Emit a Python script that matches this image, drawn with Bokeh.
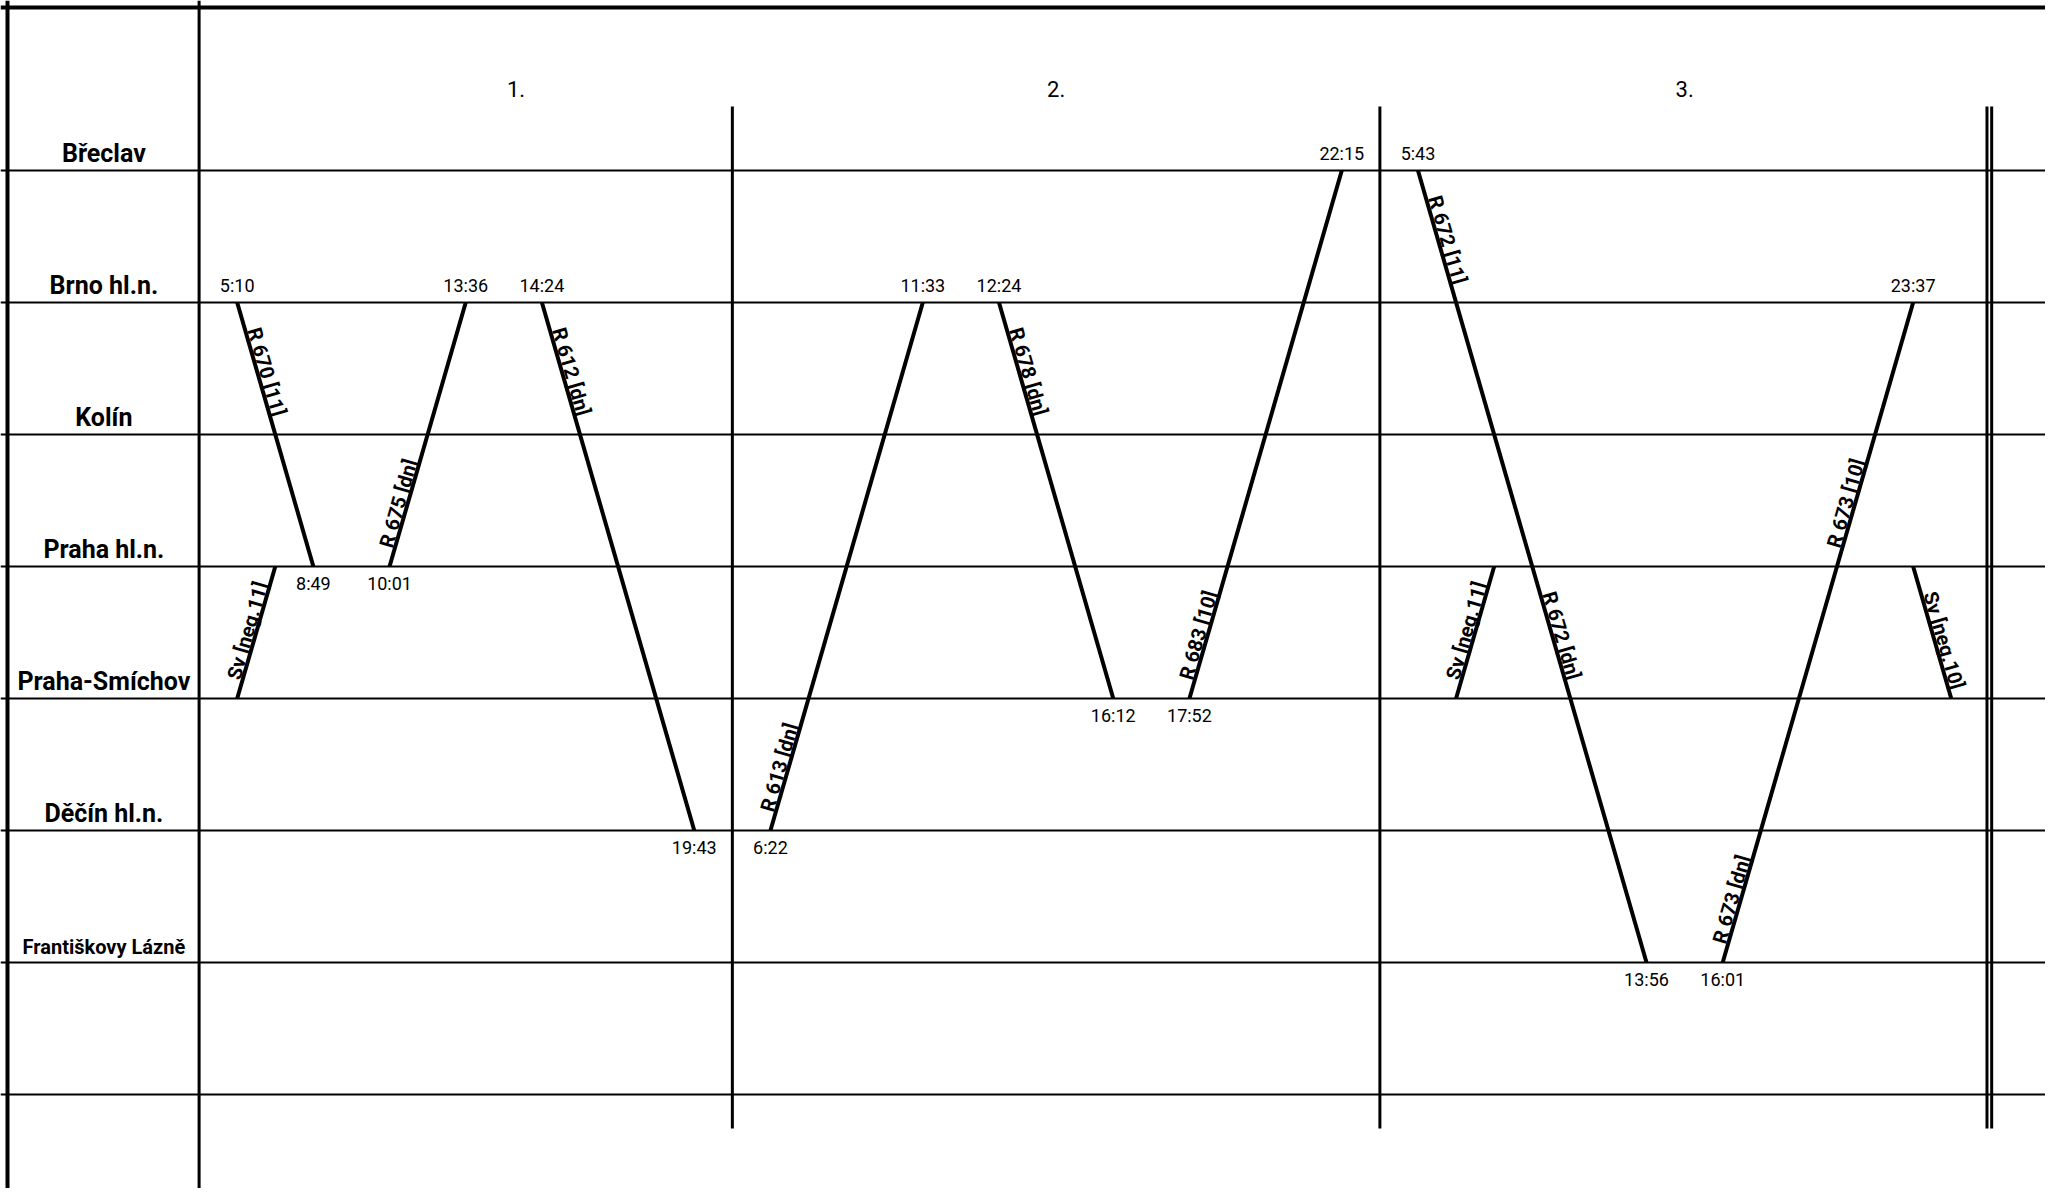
import math
from bokeh.plotting import figure
from bokeh.models import Range1d, Span, ColumnDataSource
from bokeh.embed import file_html
from bokeh.resources import INLINE
from bokeh.core.properties import value

# ---------------- data ----------------
stations = ["Břeclav", "Brno hl.n.", "Kolín", "Praha hl.n.", "Praha-Smíchov",
            "Děčín hl.n.", "Františkovy Lázně", ""]

days = ["1.", "2.", "3."]
day_end_slot = [14, 31, 47]          # schematic slot where each day column ends

train = ["Sv", "R 670", "R 675", "R 612", "R 613", "R 678", "R 683",
         "R 672", "R 672", "Sv", "R 673", "R 673", "Sv"]
validity = ["neg.11", "11", "dn", "dn", "dn", "dn", "10",
            "11", "dn", "neg.11", "dn", "10", "neg.10"]
from_station = ["Praha-Smíchov", "Brno hl.n.", "Praha hl.n.", "Brno hl.n.",
                "Děčín hl.n.", "Brno hl.n.", "Praha-Smíchov",
                "Břeclav", "Praha hl.n.", "Praha-Smíchov",
                "Františkovy Lázně", "Praha hl.n.", "Praha hl.n."]
to_station = ["Praha hl.n.", "Praha hl.n.", "Brno hl.n.", "Děčín hl.n.",
              "Brno hl.n.", "Praha-Smíchov", "Břeclav",
              "Praha hl.n.", "Františkovy Lázně", "Praha hl.n.",
              "Praha hl.n.", "Brno hl.n.", "Praha-Smíchov"]
start_slot = [1, 1, 5, 9, 15, 21, 26, 32, 35, 33, 40, 43, 45]
dep_time = ["", "5:10", "10:01", "14:24", "6:22", "12:24", "17:52",
            "5:43", "", "", "16:01", "", ""]
arr_time = ["", "8:49", "13:36", "19:43", "11:33", "16:12", "22:15",
            "", "13:56", "", "", "23:37", ""]

# ---------------- layout / style constants ----------------
W, H = 2045, 1188
SLOT_PX = 38.09          # screen px per schematic slot
ROW_PX = 132.0           # screen px per station row
X0 = -198.6 / SLOT_PX    # page x = 0
Y0 = -170.0 / ROW_PX     # page y = 0
X1 = X0 + W / SLOT_PX
Y1 = Y0 + H / ROW_PX
FONT = "Roboto"
BASE_FIX = 0.3           # renderer puts the alphabetic baseline ~0.3em low
DAY1_HEADER_START = 2.64
DAY_LINE_TOP = -0.485
DAY_LINE_BOTTOM = 7.258
ST_SIZE, ST_SMALL = 25, 20
TIME_SIZE, DAY_SIZE, RUN_SIZE = 18, 22, 20
TIME_ABOVE, TIME_BELOW = 12, 22
small_station_labels = {"Františkovy Lázně"}

p = figure(width=W, height=H, x_range=Range1d(X0, X1), y_range=Range1d(Y1, Y0),
           output_backend="svg", toolbar_location=None, min_border=0,
           x_axis_type=None, y_axis_type=None, outline_line_color=None)
p.background_fill_color = "white"
p.border_fill_color = "white"

row_of = {s: i for i, s in enumerate(stations)}

# grid of station lines
for r in range(len(stations)):
    p.add_layout(Span(location=r, dimension="width", line_color="black", line_width=2))
# frame borders
p.add_layout(Span(location=Y0 + 7 / ROW_PX, dimension="width", line_color="black", line_width=4))
p.add_layout(Span(location=X0 + 7 / SLOT_PX, dimension="height", line_color="black", line_width=4))
p.add_layout(Span(location=0, dimension="height", line_color="black", line_width=3))

# day separators
sep = day_end_slot[:-1]
p.segment(x0=sep, y0=[DAY_LINE_TOP] * len(sep), x1=sep, y1=[DAY_LINE_BOTTOM] * len(sep),
          line_color="black", line_width=3)
last = day_end_slot[-1]
dd = 2.35 / SLOT_PX
p.segment(x0=[last - dd, last + dd], y0=[DAY_LINE_TOP] * 2, x1=[last - dd, last + dd],
          y1=[DAY_LINE_BOTTOM] * 2, line_color="black", line_width=3)

# day headers
starts = [DAY1_HEADER_START] + day_end_slot[:-1]
hx = [(a + b) / 2 for a, b in zip(starts, day_end_slot)]
p.text(x=hx, y=[(-75 - BASE_FIX * DAY_SIZE) / ROW_PX] * len(days), text=days,
       text_font=value(FONT), text_font_size=f"{DAY_SIZE}px", text_align="center",
       text_baseline="alphabetic", text_color="black")

# station labels
st_sizes = [ST_SMALL if s in small_station_labels else ST_SIZE for s in stations]
st_src = ColumnDataSource(dict(
    x=[-2.5] * len(stations),
    y=[i - (10 + BASE_FIX * sz) / ROW_PX for i, sz in enumerate(st_sizes)],
    text=stations,
    size=[f"{sz}px" for sz in st_sizes],
))
p.text(x="x", y="y", text="text", source=st_src, text_font=value(FONT),
       text_font_style="bold", text_font_size="size", text_align="center",
       text_baseline="alphabetic", text_color="black")

# train runs
sx0, sy0, sx1, sy1 = [], [], [], []
tl_x, tl_y, tl_t = [], [], []
lab_x, lab_y, lab_t, lab_a = [], [], [], []
tfix = BASE_FIX * TIME_SIZE
for i in range(len(train)):
    r0 = row_of[from_station[i]]
    r1 = row_of[to_station[i]]
    n = abs(r1 - r0)
    x0 = start_slot[i]
    x1 = x0 + n
    sx0.append(x0); sy0.append(r0); sx1.append(x1); sy1.append(r1)
    # time labels
    if dep_time[i]:
        tl_x.append(x0)
        tl_y.append(r0 - (TIME_ABOVE + tfix) / ROW_PX if r0 < r1
                    else r0 + (TIME_BELOW - tfix) / ROW_PX)
        tl_t.append(dep_time[i])
    if arr_time[i]:
        tl_x.append(x1)
        tl_y.append(r1 - (TIME_ABOVE + tfix) / ROW_PX if r1 < r0
                    else r1 + (TIME_BELOW - tfix) / ROW_PX)
        tl_t.append(arr_time[i])
    # rotated run label, baseline along the line
    dxs = (x1 - x0) * SLOT_PX
    dys = (r1 - r0) * ROW_PX          # screen y, downward positive
    L = math.hypot(dxs, dys)
    ux, uy = dxs / L, dys / L
    upx, upy = uy, -ux                 # text "up" direction in screen coords
    off_v = 28 if r1 > r0 else 17
    d = off_v / abs(uy)
    perp = 3.0 + BASE_FIX * RUN_SIZE
    ax = ux * d + upx * perp
    ay = uy * d + upy * perp
    lab_x.append(x0 + ax / SLOT_PX)
    lab_y.append(r0 + ay / ROW_PX)
    lab_t.append(f"{train[i]}  [{validity[i]}]")
    lab_a.append(math.atan2(-uy, ux))

p.segment(x0=sx0, y0=sy0, x1=sx1, y1=sy1, line_color="black", line_width=4)

p.text(x=tl_x, y=tl_y, text=tl_t, text_font=value(FONT), text_font_size=f"{TIME_SIZE}px",
       text_align="center", text_baseline="alphabetic", text_color="black")

p.text(x=lab_x, y=lab_y, text=lab_t, angle=lab_a, text_font=value(FONT),
       text_font_style="bold", text_font_size=f"{RUN_SIZE}px", text_align="left",
       text_baseline="alphabetic", text_color="black")

open("out.html", "w").write(file_html(p, INLINE))
